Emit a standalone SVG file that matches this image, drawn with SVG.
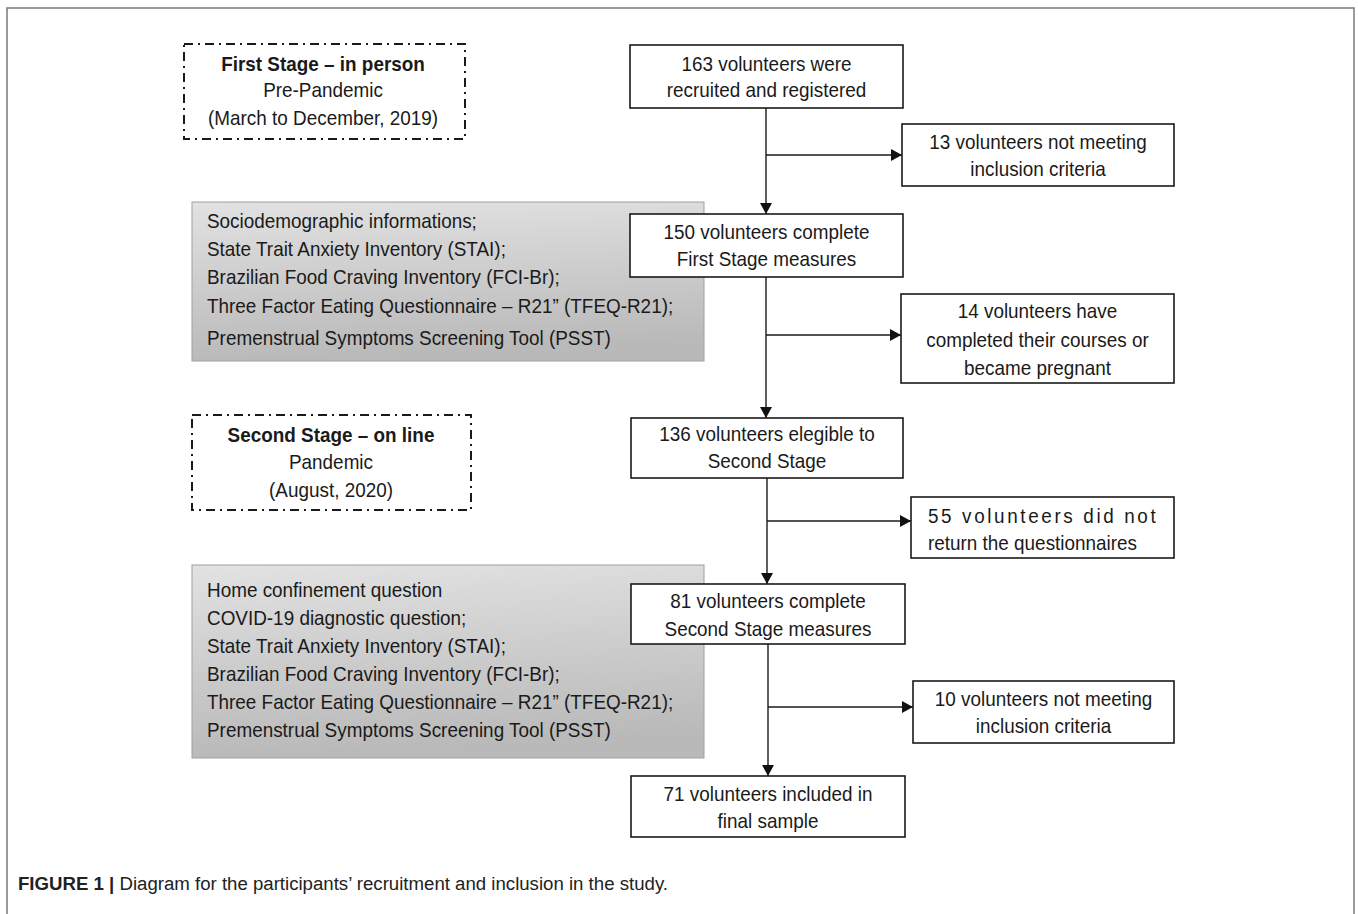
<svg xmlns="http://www.w3.org/2000/svg" width="1358" height="914" viewBox="0 0 1358 914">
<defs>
<linearGradient id="grey" x1="0" y1="0" x2="0.15" y2="1">
<stop offset="0" stop-color="#e2e2e2"/>
<stop offset="1" stop-color="#b9b9b9"/>
</linearGradient>
<marker id="arr" viewBox="0 0 11 12" refX="11" refY="6" markerWidth="11" markerHeight="12" markerUnits="userSpaceOnUse" orient="auto">
<path d="M0,0 L11,6 L0,12 Z" fill="#111"/>
</marker>
</defs>
<style>
.t{font-family:"Liberation Sans",Arial,sans-serif;font-size:21px;fill:#1a1a1a}
.c{text-anchor:middle}
.b{font-weight:bold}
.box{fill:#fff;stroke:#1a1a1a;stroke-width:1.6}
.stage{fill:#fff;stroke:#1a1a1a;stroke-width:2;stroke-dasharray:9 5 2 5}
.gbox{fill:url(#grey);stroke:#a0a0a0;stroke-width:1}
.ln{fill:none;stroke:#1a1a1a;stroke-width:1.4}
.cap{font-family:"Liberation Sans",Arial,sans-serif;font-size:18px;fill:#222}
</style>
<rect width="1358" height="914" fill="#fff"/>
<path d="M7,914 L7,8 L1354,8 L1354,914" fill="none" stroke="#7a7a7a" stroke-width="1.5"/>

<g id="stage1">
<rect class="stage" x="184" y="44" width="281" height="95"/>
<g transform="translate(323,0) scale(0.9,1)">
<text class="t c b" x="0" y="71">First Stage – in person</text>
<text class="t c" x="0" y="97">Pre-Pandemic</text>
<text class="t c" x="0" y="125">(March to December, 2019)</text>
</g>
</g>

<g id="stage2">
<rect class="stage" x="192" y="415" width="279" height="95"/>
<g transform="translate(331,0) scale(0.9,1)">
<text class="t c b" x="0" y="442">Second Stage – on line</text>
<text class="t c" x="0" y="469">Pandemic</text>
<text class="t c" x="0" y="497">(August, 2020)</text>
</g>
</g>

<g id="measures1">
<rect class="gbox" x="192" y="202" width="512" height="159"/>
<g transform="translate(207,0) scale(0.9,1)">
<text class="t" x="0" y="228">Sociodemographic informations;</text>
<text class="t" x="0" y="256">State Trait Anxiety Inventory (STAI);</text>
<text class="t" x="0" y="284">Brazilian Food Craving Inventory (FCI-Br);</text>
<text class="t" x="0" y="313">Three Factor Eating Questionnaire – R21” (TFEQ-R21);</text>
<text class="t" x="0" y="345">Premenstrual Symptoms Screening Tool (PSST)</text>
</g>
</g>

<g id="measures2">
<rect class="gbox" x="192" y="565" width="512" height="193"/>
<g transform="translate(207,0) scale(0.9,1)">
<text class="t" x="0" y="597">Home confinement question</text>
<text class="t" x="0" y="625">COVID-19 diagnostic question;</text>
<text class="t" x="0" y="653">State Trait Anxiety Inventory (STAI);</text>
<text class="t" x="0" y="681">Brazilian Food Craving Inventory (FCI-Br);</text>
<text class="t" x="0" y="709">Three Factor Eating Questionnaire – R21” (TFEQ-R21);</text>
<text class="t" x="0" y="737">Premenstrual Symptoms Screening Tool (PSST)</text>
</g>
</g>

<g id="connectors">
<path class="ln" d="M766,108 V214" marker-end="url(#arr)"/>
<path class="ln" d="M766,155 H902" marker-end="url(#arr)"/>
<path class="ln" d="M766,277 V418" marker-end="url(#arr)"/>
<path class="ln" d="M766,335 H901" marker-end="url(#arr)"/>
<path class="ln" d="M767,478 V584" marker-end="url(#arr)"/>
<path class="ln" d="M767,521 H911" marker-end="url(#arr)"/>
<path class="ln" d="M768,644 V776" marker-end="url(#arr)"/>
<path class="ln" d="M768,707 H913" marker-end="url(#arr)"/>
</g>

<g id="n163">
<rect class="box" x="630" y="45" width="273" height="63"/>
<g transform="translate(766.5,0) scale(0.9,1)">
<text class="t c" x="0" y="71">163 volunteers were</text>
<text class="t c" x="0" y="97">recruited and registered</text>
</g>
</g>

<g id="n13">
<rect class="box" x="902" y="124" width="272" height="62"/>
<g transform="translate(1038,0) scale(0.9,1)">
<text class="t c" x="0" y="149">13 volunteers not meeting</text>
<text class="t c" x="0" y="176">inclusion criteria</text>
</g>
</g>

<g id="n150">
<rect class="box" x="630" y="214" width="273" height="63"/>
<g transform="translate(766.5,0) scale(0.9,1)">
<text class="t c" x="0" y="239">150 volunteers complete</text>
<text class="t c" x="0" y="266">First Stage measures</text>
</g>
</g>

<g id="n14">
<rect class="box" x="901" y="294" width="273" height="89"/>
<g transform="translate(1037.5,0) scale(0.9,1)">
<text class="t c" x="0" y="318">14 volunteers have</text>
<text class="t c" x="0" y="347">completed their courses or</text>
<text class="t c" x="0" y="375">became pregnant</text>
</g>
</g>

<g id="n136">
<rect class="box" x="631" y="418" width="272" height="60"/>
<g transform="translate(767,0) scale(0.9,1)">
<text class="t c" x="0" y="441">136 volunteers elegible to</text>
<text class="t c" x="0" y="468">Second Stage</text>
</g>
</g>

<g id="n55">
<rect class="box" x="911" y="497" width="263" height="61"/>
<g transform="translate(928,0) scale(0.9,1)">
<text class="t" x="0" y="523" textLength="253" lengthAdjust="spacing">55 volunteers did not</text>
<text class="t" x="0" y="550">return the questionnaires</text>
</g>
</g>

<g id="n81">
<rect class="box" x="631" y="584" width="274" height="60"/>
<g transform="translate(768,0) scale(0.9,1)">
<text class="t c" x="0" y="608">81 volunteers complete</text>
<text class="t c" x="0" y="636">Second Stage measures</text>
</g>
</g>

<g id="n10">
<rect class="box" x="913" y="681" width="261" height="62"/>
<g transform="translate(1043.5,0) scale(0.9,1)">
<text class="t c" x="0" y="706">10 volunteers not meeting</text>
<text class="t c" x="0" y="733">inclusion criteria</text>
</g>
</g>

<g id="n71">
<rect class="box" x="631" y="776" width="274" height="61"/>
<g transform="translate(768,0) scale(0.9,1)">
<text class="t c" x="0" y="801">71 volunteers included in</text>
<text class="t c" x="0" y="828">final sample</text>
</g>
</g>

<g id="caption">
<text class="cap" x="18" y="890" textLength="650" lengthAdjust="spacingAndGlyphs"><tspan font-weight="bold">FIGURE 1 |</tspan> Diagram for the participants’ recruitment and inclusion in the study.</text>
</g>
</svg>
